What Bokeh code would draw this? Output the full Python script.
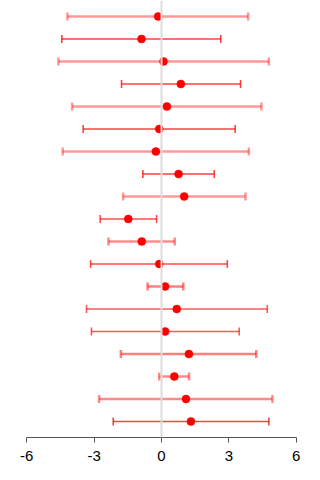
from bokeh.plotting import figure
from bokeh.models import ColumnDataSource, Range1d, Span, FixedTicker
from bokeh.embed import file_html
from bokeh.resources import INLINE

# Effect estimates with lower / upper interval bounds, top row first
estimate = [-0.15, -0.89, 0.09, 0.86, 0.24, -0.10, -0.25, 0.76, 1.01, -1.48,
            -0.88, -0.10, 0.16, 0.68, 0.16, 1.22, 0.57, 1.09, 1.31]
lower = [-4.19, -4.44, -4.59, -1.78, -3.98, -3.49, -4.40, -0.83, -1.71, -2.73,
         -2.36, -3.16, -0.62, -3.34, -3.12, -1.81, -0.10, -2.78, -2.15]
upper = [3.86, 2.64, 4.78, 3.52, 4.45, 3.28, 3.89, 2.35, 3.74, -0.22,
         0.59, 2.93, 0.97, 4.71, 3.46, 4.22, 1.23, 4.94, 4.78]
x_ticks = [-6, -3, 0, 3, 6]
x_tick_labels = ["-6", "-3", "0", "3", "6"]

# Per-row stroke opacity of the interval lines
bar_alpha = [0.4, 0.75, 0.4, 0.75, 0.4, 0.75, 0.4, 0.75, 0.4, 0.7,
             0.45, 0.7, 0.5, 0.65, 0.65, 0.5, 0.45, 0.45, 0.75]
bar_width = [2.5 if a < 0.6 else 1.6 for a in bar_alpha]

rows = list(range(1, len(estimate) + 1))
cap = 0.18

src = ColumnDataSource(dict(
    y=rows, est=estimate, lo=lower, hi=upper,
    y0=[r - cap for r in rows], y1=[r + cap for r in rows],
    alpha=bar_alpha, lw=bar_width,
))

p = figure(width=320, height=480, output_backend="svg", toolbar_location=None,
           x_range=Range1d(-7.17, 7.08), y_range=Range1d(19.71, 0.289),
           min_border_left=0, min_border_right=0, min_border_top=0,
           min_border_bottom=43)
p.outline_line_color = None
p.background_fill_color = "white"
p.border_fill_color = "white"
p.grid.visible = False
p.yaxis.visible = False

p.add_layout(Span(location=0, dimension="height", line_color="#dcdcdc",
                  line_width=2))

p.segment(x0="lo", x1="hi", y0="y", y1="y", source=src, line_color="red",
          line_alpha="alpha", line_width="lw")
p.segment(x0="lo", x1="lo", y0="y0", y1="y1", source=src, line_color="red",
          line_alpha="alpha", line_width="lw")
p.segment(x0="hi", x1="hi", y0="y0", y1="y1", source=src, line_color="red",
          line_alpha="alpha", line_width="lw")
p.scatter(x="est", y="y", source=src, size=8, fill_color="red",
          line_color="red", line_width=0.5)

ax = p.xaxis[0]
ax.ticker = FixedTicker(ticks=x_ticks)
ax.major_label_overrides = {t: s for t, s in zip(x_ticks, x_tick_labels)}
ax.bounds = (-6, 6)
ax.axis_line_color = "#555555"
ax.major_tick_line_color = "#555555"
ax.major_tick_out = 5
ax.major_tick_in = 0
ax.minor_tick_line_color = None
ax.major_label_standoff = 8
ax.major_label_text_font = "Liberation Sans"
ax.major_label_text_font_size = "15px"
ax.major_label_text_color = "black"

open("out.html", "w").write(file_html(p, INLINE))
